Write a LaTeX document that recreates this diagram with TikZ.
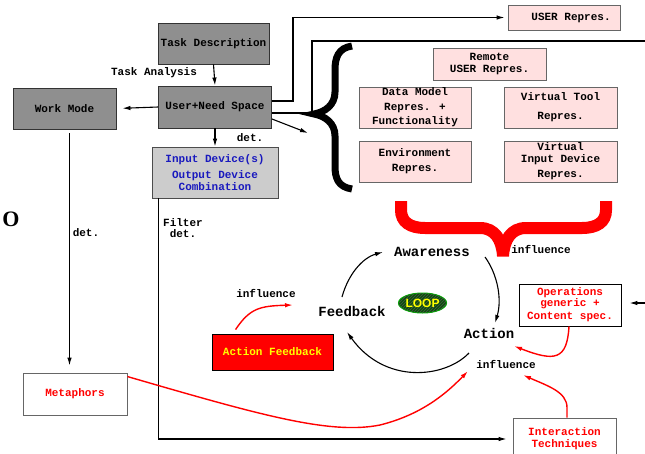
\documentclass[tikz,border=0pt]{standalone}
\usepackage{fontspec}
\setmainfont{Liberation Serif}
\newfontfamily\courfont{Liberation Mono}
\newfontfamily\loopfont{Liberation Sans}
\usetikzlibrary{arrows.meta,shapes.geometric,patterns}
\definecolor{boxgray}{RGB}{143,143,143}
\definecolor{lightbox}{RGB}{204,204,204}
\definecolor{pinkfill}{RGB}{255,224,224}
\definecolor{devblue}{RGB}{25,25,190}
\definecolor{loopgreen}{RGB}{10,85,10}
\definecolor{loopedge}{RGB}{0,170,0}
\definecolor{pureyellow}{RGB}{255,255,0}
\definecolor{purered}{RGB}{255,0,0}
\begin{document}
\begin{tikzpicture}[x=1pt,y=-1pt,
  txt/.style={font=\courfont\bfseries\fontsize{11}{12}\selectfont, align=center, inner sep=0pt},
  bigtxt/.style={font=\courfont\bfseries\fontsize{14}{16}\selectfont, inner sep=1pt},
  graybox/.style={txt, rectangle, draw=black!80, fill=boxgray, line width=0.9pt},
  devbox/.style={txt, rectangle, draw=black!70, fill=lightbox, text=devblue, line width=0.9pt},
  pinkbx/.style={txt, rectangle, draw=black!60, fill=pinkfill, line width=0.9pt},
  whitebx/.style={txt, rectangle, draw=black!60, fill=white, text=purered, line width=0.9pt},
  conn/.style={line width=1.1pt, -{Latex[length=8pt,width=4.5pt]}},
  loopconn/.style={line width=1.1pt, -{Latex[length=8pt,width=4.5pt]}},
  redconn/.style={purered, line width=1.4pt, -{Latex[length=8pt,width=4.5pt]}},
  lbl/.style={txt}
]
\fill[white] (0,0) rectangle (645,453);
\useasboundingbox (0,0) rectangle (645,453);
\clip (0,0) rectangle (645,453);

% braces
\draw[line width=7pt] (352,46) .. controls (338,48) and (335,58) .. (335,70) -- (335,92)
  .. controls (335,105) and (325,112) .. (314,114)
  .. controls (325,116) and (335,123) .. (335,136) -- (335,166)
  .. controls (335,178) and (338,187) .. (352,189);
\draw[purered, line width=12pt] (401,201) -- (401,210) .. controls (401,222) and (410,228) .. (425,228)
  -- (480,228) .. controls (495,228) and (502,240) .. (503,256)
  .. controls (504,240) and (511,228) .. (526,228) -- (582,228)
  .. controls (597,228) and (606,222) .. (606,210) -- (606,201);

% boxes
\node[graybox, minimum width=111pt, minimum height=41pt] (task) at (213.5,43.5) {Task Description};
\node[graybox, minimum width=113pt, minimum height=42pt] (user) at (215,107) {User+Need Space};
\node[graybox, minimum width=103pt, minimum height=41pt] (work) at (64.5,108.5) {Work Mode};
\node[devbox, minimum width=126pt, minimum height=51pt] (input) at (215,172.5) {Input Device(s)\\[4pt]Output Device\\Combination};
\node[pinkbx, minimum width=112pt, minimum height=25pt] (userrep) at (564,17.5) {\hspace*{14pt}USER Repres.};
\node[pinkbx, minimum width=113pt, minimum height=32pt] (remote) at (489.5,64) {Remote\\USER Repres.};
\node[pinkbx, minimum width=112pt, minimum height=41pt] (datamodel) at (415,107.5) {Data Model\\[2.5pt]Repres. +\\[2.5pt]Functionality};
\node[pinkbx, minimum width=113pt, minimum height=41pt] (vtool) at (560.5,107.5) {Virtual Tool\\[7pt]Repres.};
\node[pinkbx, minimum width=112pt, minimum height=41pt] (env) at (415,161.5) {Environment\\[3pt]Repres.};
\node[pinkbx, minimum width=113pt, minimum height=41pt] (vinput) at (560.5,161.5) {Virtual\\Input Device\\[3pt]Repres.};
\node[whitebx, draw=black, minimum width=102pt, minimum height=42pt] (ops) at (570,305) {Operations\\[-1pt]generic +\\[1pt]Content spec.};
\node[txt, rectangle, draw=black, line width=0.9pt, fill=purered, text=pureyellow, minimum width=121pt, minimum height=36pt] (af) at (272.5,352) {Action Feedback};
\node[whitebx, minimum width=104pt, minimum height=42pt] (meta) at (75,394) {Metaphors};
\node[whitebx, minimum width=103pt, minimum height=42pt] (inter) at (564.5,439) {Interaction\\Techniques};

% loop nodes
\node[bigtxt] (aware) at (432,252) {Awareness};
\node[bigtxt] (feedback) at (352,311) {Feedback};
\node[bigtxt] (action) at (489,333) {Action};
\node[ellipse, draw=loopedge, line width=1pt, fill=loopgreen,
  postaction={pattern=north east lines, pattern color=black!70},
  minimum width=41pt, minimum height=20pt, inner sep=0pt, text=pureyellow,
  font=\loopfont\bfseries\fontsize{12}{12}\selectfont] (loop) at (422.5,303) {LOOP};

% labels
\node[lbl] (ta) at (154,73) {Task Analysis};
\node[lbl] (det1) at (250,138) {det.};
\node[lbl] (det2) at (86,233) {det.};
\node[lbl] (filt) at (183,228) {Filter\\[-1pt]det.};
\node[lbl] (inf1) at (541,249) {influence};
\node[lbl] (inf2) at (266,293) {influence};
\node[lbl] (inf3) at (506,364) {influence};
\node[font=\bfseries\fontsize{22}{22}\selectfont, inner sep=0pt] (bigO) at (11,219) {O};

% coordinates
\coordinate (edgeA) at (645,41);
\coordinate (edgeB) at (645,303);
\coordinate (diagEnd) at (308,133);
\coordinate (fbOut) at (342,297);
\coordinate (awIn) at (383,252);
\coordinate (awOut) at (485,257);
\coordinate (acIn) at (495,323);
\coordinate (acOut) at (469,353);
\coordinate (fbIn) at (347,332);
\coordinate (actIn) at (514,346);
\coordinate (infIn) at (523,375);
\coordinate (metaIn) at (468,371);
\coordinate (afIn) at (293,305);

% connectors
\draw[conn] (task.south) -- (user.north);
\draw[conn, shorten >=6pt] (user.west) -- (work.east);
\draw[conn] (user.south) -- (input.north);
\draw[conn, shorten >=3pt] ([yshift=6pt]user.east) -- ++(21,0) |- (userrep.west);
\draw[line width=1.1pt] ([yshift=-6pt]user.east) -- ++(40,0) |- (edgeA);
\draw[conn] ([yshift=-12pt]user.east) -- (diagEnd);
\draw[conn, shorten <=4pt, shorten >=7pt] ([xshift=5pt]work.south) -- ([xshift=5pt]work.south |- meta.north);
\draw[conn, shorten >=6pt] ([xshift=7pt]input.south west) |- (inter.west);
\draw[conn, shorten >=8pt] (edgeB) -- (ops.east |- edgeB);

% loop arcs
\draw[loopconn] (fbOut) .. controls (348,275) and (362,258) .. (awIn);
\draw[loopconn] (awOut) .. controls (498,275) and (502,300) .. (acIn);
\draw[loopconn] (acOut) .. controls (445,378) and (385,385) .. (fbIn);

% red influences
\draw[redconn] ([xshift=-1pt]ops.south) .. controls (567,360) and (555,362) .. (actIn);
\draw[redconn] ([xshift=2.5pt]inter.north) -- ++(0,-10) .. controls (567,392) and (548,386) .. (infIn);
\draw[redconn] ([yshift=-4pt]meta.north east) .. controls (260,415) and (330,435) .. (380,425)
  .. controls (420,415) and (445,395) .. (metaIn);
\draw[redconn] ([shift={(24,-4)}]af.north west) .. controls (250,308) and (260,306) .. (afIn);
\end{tikzpicture}
\end{document}
